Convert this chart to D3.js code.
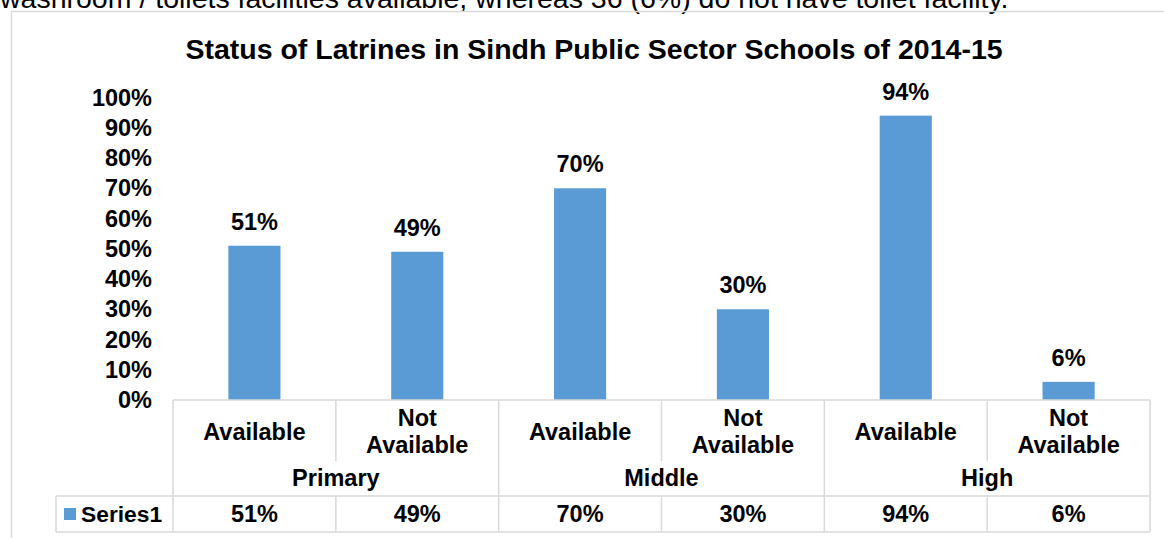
<!DOCTYPE html>
<html>
<head>
<meta charset="utf-8">
<script src="https://cdn.jsdelivr.net/npm/d3@7"></script>
<style>
  body { margin: 0; background: #fff; }
  svg { display: block; font-family: "Liberation Sans", Arial, sans-serif; }
  .bold { font-weight: bold; fill: #000; }
</style>
</head>
<body>
<svg width="1164" height="538"></svg>
<script>
(function (d3) {
  "use strict";

  const groups = ["Primary", "Middle", "High"];
  const categories = ["Available", "Not Available", "Available", "Not Available", "Available", "Not Available"];
  const values = [0.51, 0.49, 0.70, 0.30, 0.94, 0.06];
  const yTicks = [0, 0.1, 0.2, 0.3, 0.4, 0.5, 0.6, 0.7, 0.8, 0.9, 1.0];
  const seriesName = "Series1";
  const title = "Status of Latrines in Sindh Public Sector Schools of 2014-15";
  const caption = "washroom / toilets facilities available, whereas 36 (6%) do not have toilet facility.";

  const svg = d3.select("svg");
  const barColor = "#5b9bd5";
  const lineColor = "#d9d9d9";
  const fs = 23.5;

  const left = 173, right = 1150, base = 400, top = 97.5;
  const rowCat = 496, rowEnd = 532;

  // caption line from the document, cut at the top
  svg.append("text")
    .attr("x", 0)
    .attr("y", 8)
    .attr("font-size", 28.5)
    .attr("fill", "#000")
    .text(caption);

  // chart frame
  svg.append("path")
    .attr("d", `M11.5,540 V11.5 H1170`)
    .attr("fill", "none")
    .attr("stroke", lineColor)
    .attr("stroke-width", 1.5);

  svg.append("text")
    .attr("class", "bold")
    .attr("x", 594)
    .attr("y", 59)
    .attr("text-anchor", "middle")
    .attr("font-size", 28.5)
    .text(title);

  const idx = values.map((d, i) => i);
  const xScale = d3.scaleBand().domain(idx).range([left, right]);
  const yScale = d3.scaleLinear().domain([0, 1]).range([base, top]);
  const barW = xScale.bandwidth() * 0.32;

  const yAxis = d3.axisLeft(yScale)
    .tickValues(yTicks)
    .tickFormat(d3.format(".0%"))
    .tickSize(0)
    .tickPadding(0);

  const yAxisG = svg.append("g")
    .attr("transform", `translate(152, 0)`)
    .call(yAxis);
  yAxisG.select(".domain").remove();
  yAxisG.selectAll("text")
    .attr("class", "bold")
    .attr("font-size", fs)
    .attr("font-family", null);
  yAxisG.attr("font-size", null).attr("font-family", null);

  svg.selectAll("rect.bar")
    .data(values)
    .enter()
    .append("rect")
    .attr("class", "bar")
    .attr("x", (d, i) => xScale(i) + (xScale.bandwidth() - barW) / 2)
    .attr("y", (d) => yScale(d))
    .attr("width", barW)
    .attr("height", (d) => base - yScale(d))
    .attr("fill", barColor);

  const fmt = d3.format(".0%");

  svg.selectAll("text.lbl")
    .data(values)
    .enter()
    .append("text")
    .attr("class", "lbl bold")
    .attr("x", (d, i) => xScale(i) + xScale.bandwidth() / 2)
    .attr("y", (d) => yScale(d) - 16)
    .attr("text-anchor", "middle")
    .attr("font-size", fs)
    .text(fmt);

  // data table below the axis
  const tg = svg.append("g")
    .attr("stroke", lineColor)
    .attr("stroke-width", 1.5)
    .attr("fill", "none");

  tg.append("line").attr("x1", left).attr("x2", right).attr("y1", base).attr("y2", base);
  tg.append("line").attr("x1", 56).attr("x2", right).attr("y1", rowCat).attr("y2", rowCat);
  tg.append("line").attr("x1", 56).attr("x2", right).attr("y1", rowEnd).attr("y2", rowEnd);
  tg.append("line").attr("x1", 56).attr("x2", 56).attr("y1", rowCat).attr("y2", rowEnd);

  idx.concat([values.length]).forEach((i) => {
    const x = i < values.length ? xScale(i) : right;
    const full = i % 2 === 0;
    tg.append("line")
      .attr("x1", x).attr("x2", x)
      .attr("y1", base)
      .attr("y2", full ? rowEnd : 461);
    if (!full) {
      tg.append("line")
        .attr("x1", x).attr("x2", x)
        .attr("y1", rowCat).attr("y2", rowEnd);
    }
  });

  categories.forEach((c, i) => {
    const cx = xScale(i) + xScale.bandwidth() / 2;
    const words = c.split(" ");
    const t = svg.append("text")
      .attr("class", "bold")
      .attr("text-anchor", "middle")
      .attr("font-size", fs);
    if (words.length === 1) {
      t.append("tspan").attr("x", cx).attr("y", 440).text(c);
    } else {
      t.append("tspan").attr("x", cx).attr("y", 426).text(words[0]);
      t.append("tspan").attr("x", cx).attr("y", 453).text(words.slice(1).join(" "));
    }
  });

  groups.forEach((g, j) => {
    const cx = xScale(j * 2 + 1);
    svg.append("text")
      .attr("class", "bold")
      .attr("x", cx)
      .attr("y", 486)
      .attr("text-anchor", "middle")
      .attr("font-size", fs)
      .text(g);
  });

  values.forEach((v, i) => {
    svg.append("text")
      .attr("class", "bold")
      .attr("x", xScale(i) + xScale.bandwidth() / 2)
      .attr("y", 522)
      .attr("text-anchor", "middle")
      .attr("font-size", fs)
      .text(fmt(v));
  });

  svg.append("rect")
    .attr("x", 64).attr("y", 508)
    .attr("width", 12).attr("height", 12)
    .attr("fill", barColor);
  svg.append("text")
    .attr("class", "bold")
    .attr("x", 81)
    .attr("y", 522)
    .attr("font-size", 22.8)
    .text(seriesName);
})(d3);
</script>
</body>
</html>
